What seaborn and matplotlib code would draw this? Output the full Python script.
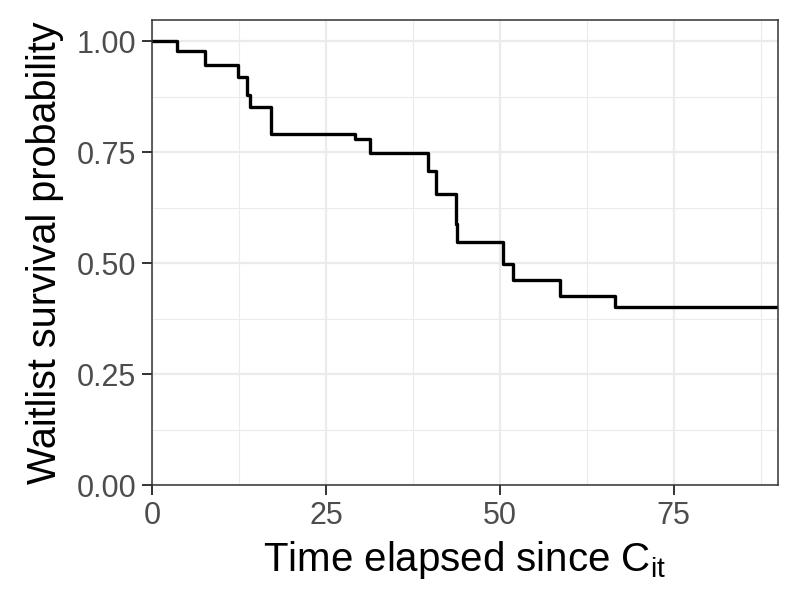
import matplotlib
matplotlib.use("Agg")
import matplotlib.pyplot as plt
import seaborn as sns
import pandas as pd
from matplotlib.ticker import MultipleLocator

# Kaplan-Meier style step data
times = [0, 3.55, 7.6, 12.3, 13.6, 14.1, 17.1, 29.2, 31.3, 39.7, 40.9, 43.7, 43.9, 50.4, 51.9, 58.7, 66.6, 90]
survival = [1.00, 0.979, 0.946, 0.920, 0.879, 0.852, 0.791, 0.781, 0.749, 0.709, 0.657, 0.588, 0.547, 0.499, 0.462, 0.427, 0.401, 0.401]

x_ticks = [0, 25, 50, 75]
y_ticks = [0.00, 0.25, 0.50, 0.75, 1.00]
y_tick_labels = ["0.00", "0.25", "0.50", "0.75", "1.00"]

sns.set_theme(style="whitegrid")
plt.rcParams['font.family'] = ['Liberation Sans', 'DejaVu Sans']
plt.rcParams['mathtext.fontset'] = 'custom'
plt.rcParams['mathtext.rm'] = 'Liberation Sans'
plt.rcParams['mathtext.it'] = 'Liberation Sans'

df = pd.DataFrame({"time": times, "surv": survival})

fig = plt.figure(figsize=(8, 6.11), dpi=100)
ax = fig.add_axes([0.19, 0.206, 0.7825, 0.761])
sns.lineplot(data=df, x="time", y="surv", drawstyle="steps-post", color="black",
             linewidth=2.4, ax=ax, estimator=None)

ax.set_xlim(0, 90)
ax.set_ylim(0, 1.048)
ax.set_xticks(x_ticks)
ax.set_yticks(y_ticks)
ax.set_yticklabels(y_tick_labels)
ax.xaxis.set_minor_locator(MultipleLocator(12.5))
ax.yaxis.set_minor_locator(MultipleLocator(0.125))

ax.set_facecolor("white")
ax.grid(which="major", color="#EBEBEB", linewidth=1.6)
ax.grid(which="minor", color="#EBEBEB", linewidth=0.8)
ax.set_axisbelow(True)
for s in ax.spines.values():
    s.set_visible(True)
    s.set_color("#333333")
    s.set_linewidth(1.1)

ax.tick_params(axis="both", which="major", length=7, width=1.4, color="#333333",
               labelsize=22, labelcolor="#4D4D4D", pad=4.5, bottom=True, left=True)
ax.tick_params(axis="both", which="minor", length=0)

ax.set_xlabel("Time elapsed since C$_{\\mathregular{it}}$", fontsize=29, color="black", labelpad=6)
ax.set_ylabel("Waitlist survival probability", fontsize=28.5, color="black", labelpad=9)

fig.savefig("out.png", dpi=100, facecolor="white")
